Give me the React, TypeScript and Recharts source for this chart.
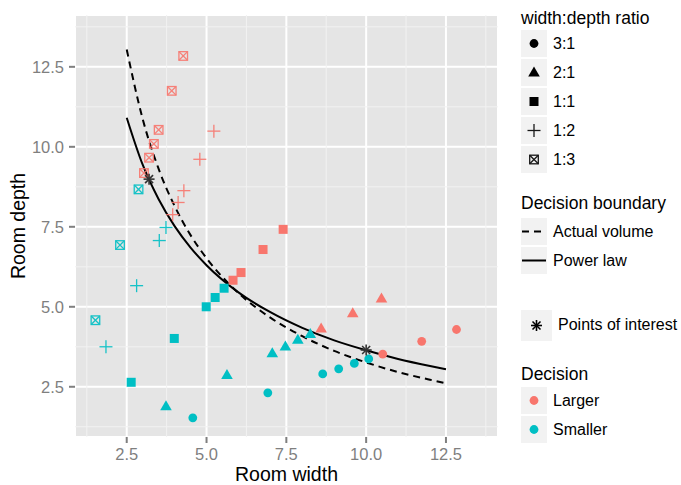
import { ComposedChart, Scatter, Line, XAxis, YAxis, CartesianGrid, ReferenceLine } from 'recharts'

// shape: width:depth ratio, colour: decision
const ratio31Larger = [{ x: 12.83, y: 4.29 }, { x: 11.74, y: 3.92 }, { x: 10.52, y: 3.52 }]
const ratio31Smaller = [{ x: 4.57, y: 1.53 }, { x: 6.92, y: 2.31 }, { x: 8.64, y: 2.9 }, { x: 9.14, y: 3.06 }, { x: 9.63, y: 3.23 }, { x: 10.08, y: 3.37 }]
const ratio21Larger = [{ x: 10.48, y: 5.26 }, { x: 9.58, y: 4.8 }, { x: 8.59, y: 4.32 }]
const ratio21Smaller = [{ x: 3.73, y: 1.89 }, { x: 5.64, y: 2.87 }, { x: 7.06, y: 3.55 }, { x: 7.47, y: 3.76 }, { x: 7.86, y: 3.97 }, { x: 8.25, y: 4.15 }]
const ratio11Larger = [{ x: 7.4, y: 7.42 }, { x: 6.77, y: 6.79 }, { x: 6.08, y: 6.07 }, { x: 5.83, y: 5.83 }]
const ratio11Smaller = [{ x: 5.55, y: 5.58 }, { x: 5.27, y: 5.29 }, { x: 4.99, y: 5.0 }, { x: 3.99, y: 4.01 }, { x: 2.64, y: 2.64 }]
const ratio12Larger = [{ x: 5.23, y: 10.49 }, { x: 4.79, y: 9.61 }, { x: 4.29, y: 8.63 }, { x: 4.11, y: 8.26 }, { x: 3.94, y: 7.88 }]
const ratio12Smaller = [{ x: 3.73, y: 7.48 }, { x: 3.52, y: 7.07 }, { x: 2.81, y: 5.66 }, { x: 1.85, y: 3.75 }]
const ratio13Larger = [{ x: 4.27, y: 12.84 }, { x: 3.91, y: 11.75 }, { x: 3.5, y: 10.53 }, { x: 3.35, y: 10.09 }, { x: 3.2, y: 9.66 }, { x: 3.04, y: 9.18 }]
const ratio13Smaller = [{ x: 2.87, y: 8.67 }, { x: 2.29, y: 6.93 }, { x: 1.52, y: 4.58 }]
const interestPoints = [{ x: 3.2, y: 8.99 }, { x: 10.0, y: 3.65 }]

// decision boundaries
const actualVolume = [
  { x: 2.5, y: 13.04 }, { x: 3, y: 10.87 }, { x: 3.5, y: 9.31 }, { x: 4, y: 8.15 }, { x: 4.5, y: 7.24 },
  { x: 5, y: 6.52 }, { x: 6, y: 5.43 }, { x: 7, y: 4.66 }, { x: 8, y: 4.08 }, { x: 9, y: 3.62 },
  { x: 10, y: 3.26 }, { x: 11, y: 2.96 }, { x: 12, y: 2.72 }, { x: 12.5, y: 2.61 },
]
const powerLaw = [
  { x: 2.5, y: 10.91 }, { x: 3, y: 9.44 }, { x: 3.5, y: 8.36 }, { x: 4, y: 7.52 }, { x: 4.5, y: 6.85 },
  { x: 5, y: 6.3 }, { x: 6, y: 5.45 }, { x: 7, y: 4.83 }, { x: 8, y: 4.34 }, { x: 9, y: 3.95 },
  { x: 10, y: 3.64 }, { x: 11, y: 3.37 }, { x: 12, y: 3.15 }, { x: 12.5, y: 3.05 },
]

const majorTicks = [2.5, 5, 7.5, 10, 12.5]
const minorTicks = [1.25, 3.75, 6.25, 8.75, 11.25, 13.75]
const ratioLabels = ['3:1', '2:1', '1:1', '1:2', '1:3']
const boundaryLabels = ['Actual volume', 'Power law']
const decisionLabels = ['Larger', 'Smaller']

const RED = '#F8766D'
const CYAN = '#00BFC4'
const FONT = '"Liberation Sans", Arial, sans-serif'

function Mark({ kind, cx, cy, color }: { kind: string; cx: number; cy: number; color: string }) {
  if (kind === 'circle') return <circle cx={cx} cy={cy} r={4.4} fill={color} />
  if (kind === 'triangle')
    return <polygon points={`${cx},${cy - 6} ${cx - 5.8},${cy + 4} ${cx + 5.8},${cy + 4}`} fill={color} />
  if (kind === 'square') return <rect x={cx - 4.5} y={cy - 4.5} width={9} height={9} fill={color} />
  if (kind === 'plus')
    return (
      <g stroke={color} strokeWidth={1.3} opacity={0.9}>
        <line x1={cx - 6.5} y1={cy} x2={cx + 6.5} y2={cy} />
        <line x1={cx} y1={cy - 6.5} x2={cx} y2={cy + 6.5} />
      </g>
    )
  if (kind === 'boxx')
    return (
      <g stroke={color} strokeWidth={1.3} fill="none" opacity={0.9}>
        <rect x={cx - 4.3} y={cy - 4.3} width={8.6} height={8.6} />
        <line x1={cx - 4.3} y1={cy - 4.3} x2={cx + 4.3} y2={cy + 4.3} />
        <line x1={cx - 4.3} y1={cy + 4.3} x2={cx + 4.3} y2={cy - 4.3} />
      </g>
    )
  if (kind === 'star')
    return (
      <g stroke={color} strokeWidth={1.6}>
        <line x1={cx - 5.5} y1={cy} x2={cx + 5.5} y2={cy} />
        <line x1={cx} y1={cy - 5.5} x2={cx} y2={cy + 5.5} />
        <line x1={cx - 4} y1={cy - 4} x2={cx + 4} y2={cy + 4} />
        <line x1={cx - 4} y1={cy + 4} x2={cx + 4} y2={cy - 4} />
      </g>
    )
  return null
}

const shapeOf = (kind: string, color: string) => (p: any) => <Mark kind={kind} cx={p.cx} cy={p.cy} color={color} />

const groups = [
  { data: ratio31Larger, kind: 'circle', color: RED },
  { data: ratio31Smaller, kind: 'circle', color: CYAN },
  { data: ratio21Larger, kind: 'triangle', color: RED },
  { data: ratio21Smaller, kind: 'triangle', color: CYAN },
  { data: ratio11Larger, kind: 'square', color: RED },
  { data: ratio11Smaller, kind: 'square', color: CYAN },
  { data: ratio12Larger, kind: 'plus', color: RED },
  { data: ratio12Smaller, kind: 'plus', color: CYAN },
  { data: ratio13Larger, kind: 'boxx', color: RED },
  { data: ratio13Smaller, kind: 'boxx', color: CYAN },
]

const ratioKinds = ['circle', 'triangle', 'square', 'plus', 'boxx']

function Key({ children, w = 26, h = 27 }: { children: any; w?: number; h?: number }) {
  return (
    <svg width={w} height={h} style={{ display: 'block', background: '#F2F2F2' }}>
      {children}
    </svg>
  )
}

function Legend() {
  const title = { fontSize: 17.5, color: '#000', height: 22, lineHeight: '22px' }
  const row = { display: 'flex', alignItems: 'center', height: 29, fontSize: 16 }
  return (
    <div style={{ position: 'absolute', left: 521, top: 7, fontFamily: FONT, color: '#000' }}>
      <div style={title}>width:depth ratio</div>
      {ratioLabels.map((l, i) => (
        <div key={l} style={row}>
          <Key>
            <Mark kind={ratioKinds[i]} cx={13} cy={13.5} color="#000" />
          </Key>
          <span style={{ marginLeft: 6 }}>{l}</span>
        </div>
      ))}
      <div style={{ ...title, marginTop: 18, marginBottom: 3 }}>Decision boundary</div>
      {boundaryLabels.map((l, i) => (
        <div key={l} style={row}>
          <Key>
            <line x1={1} y1={13.5} x2={25} y2={13.5} stroke="#000" strokeWidth={2} strokeDasharray={i === 0 ? '7 5' : undefined} />
          </Key>
          <span style={{ marginLeft: 6 }}>{l}</span>
        </div>
      ))}
      <div style={{ ...row, height: 32, marginTop: 34 }}>
        <Key w={31} h={31}>
          <Mark kind="star" cx={15.5} cy={15.5} color="#000" />
        </Key>
        <span style={{ marginLeft: 6 }}>Points of interest</span>
      </div>
      <div style={{ ...title, marginTop: 22, marginBottom: 1 }}>Decision</div>
      {decisionLabels.map((l, i) => (
        <div key={l} style={row}>
          <Key>
            <circle cx={13} cy={13.5} r={4.4} fill={i === 0 ? RED : CYAN} />
          </Key>
          <span style={{ marginLeft: 6 }}>{l}</span>
        </div>
      ))}
    </div>
  )
}

export default function App() {
  const tick = { fill: '#7F7F7F', fontSize: 16.5, fontFamily: FONT }
  return (
    <div style={{ position: 'absolute', left: 0, top: 0, width: 681, height: 485, background: '#fff' }}>
      <ComposedChart width={681} height={485} margin={{ top: 15, right: 183, bottom: 0, left: 0 }}>
        <CartesianGrid fill="#E5E5E5" stroke="#FFFFFF" strokeWidth={2} />
        <XAxis
          type="number"
          dataKey="x"
          domain={[0.88, 14.13]}
          allowDataOverflow
          ticks={majorTicks}
          tickFormatter={(v: number) => v.toFixed(1)}
          tick={tick}
          tickSize={6}
          tickMargin={5}
          tickLine={{ stroke: '#7F7F7F', strokeWidth: 2 }}
          axisLine={false}
          height={48}
          label={{ value: 'Room width', position: 'insideBottom', offset: 4, style: { fontSize: 19.5, fill: '#000', fontFamily: FONT } }}
        />
        <YAxis
          type="number"
          dataKey="y"
          domain={[0.93, 14.12]}
          allowDataOverflow
          ticks={majorTicks}
          tickFormatter={(v: number) => v.toFixed(1)}
          tick={tick}
          tickSize={6}
          tickMargin={5}
          tickLine={{ stroke: '#7F7F7F', strokeWidth: 2 }}
          axisLine={false}
          width={75}
          label={{ value: 'Room depth', angle: -90, position: 'insideLeft', offset: 18, style: { fontSize: 19.5, fill: '#000', fontFamily: FONT, textAnchor: 'middle' } }}
        />
        {minorTicks.map(v => (
          <ReferenceLine key={'mx' + v} x={v} stroke="#F2F2F2" strokeWidth={1} />
        ))}
        {minorTicks.map(v => (
          <ReferenceLine key={'my' + v} y={v} stroke="#F2F2F2" strokeWidth={1} />
        ))}
        {groups.map((g, i) => (
          <Scatter key={i} data={g.data} shape={shapeOf(g.kind, g.color)} isAnimationActive={false} />
        ))}
        <Line data={actualVolume} dataKey="y" type="monotone" stroke="#000" strokeWidth={2} strokeDasharray="7 5" dot={false} isAnimationActive={false} />
        <Line data={powerLaw} dataKey="y" type="monotone" stroke="#000" strokeWidth={2} dot={false} isAnimationActive={false} />
        <Scatter data={interestPoints} shape={shapeOf('star', '#333')} isAnimationActive={false} />
      </ComposedChart>
      <Legend />
    </div>
  )
}
